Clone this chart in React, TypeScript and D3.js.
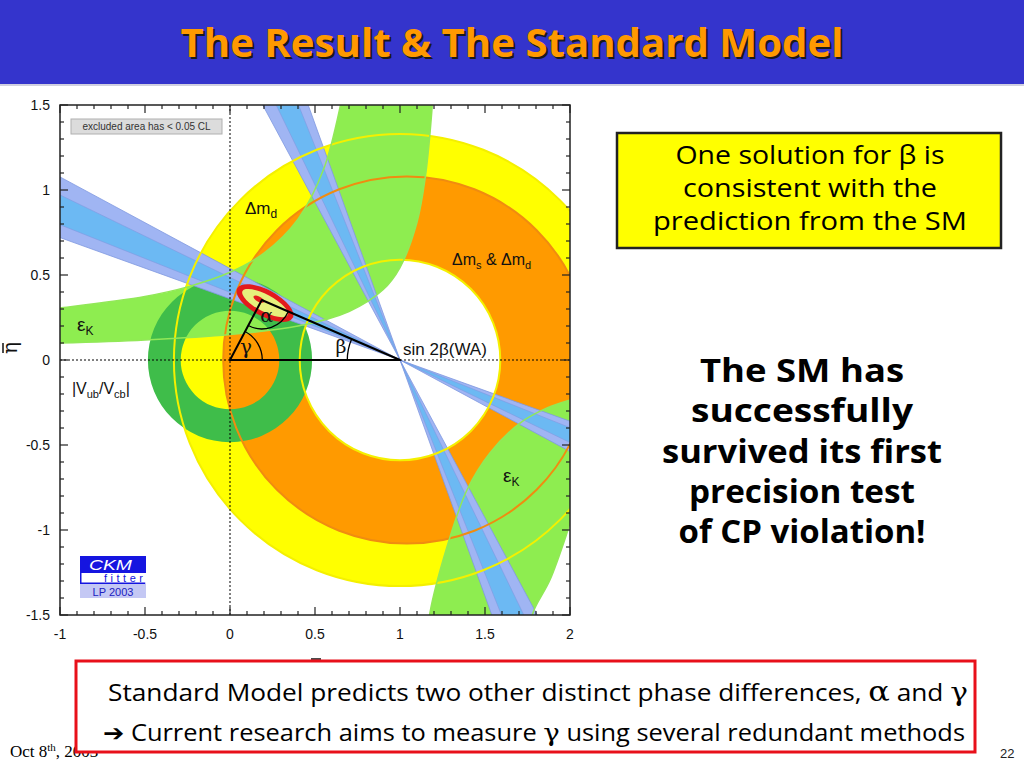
import React from 'react';
import * as d3 from 'd3';

// slide text
const TITLE = 'The Result & The Standard Model';
const boxLines = ['One solution for β is', 'consistent with the', 'prediction from the SM'];
const bigLines = ['The SM has', 'successfully', 'survived its first', 'precision test', 'of CP violation!'];

// axis ticks
const xTickLabels = [-1, -0.5, 0, 0.5, 1, 1.5, 2];
const yTickLabels = [-1.5, -1, -0.5, 0, 0.5, 1, 1.5];

// constraints: [rho centre, eta centre, radius]
const dmdOuter = [1, 0, 1.33];
const dmdInner = [1, 0, 0.59];
const dmsOuter = [1.04, 0, 1.08];
const vubOuter = [0, 0, 0.483];
const vubInner = [0, 0, 0.29];

// sin2beta (world average) -> beta range in degrees
const beta2s = [19.8, 28.3];
const beta1s = [21.7, 25.9];

// epsilon_K band edges [rho, eta]
const epsUpOuter: [number, number][] = [
  [-1.05, 0.3], [-1, 0.306], [-0.5, 0.374], [-0.25, 0.43], [0, 0.516], [0.2, 0.629],
  [0.4, 0.829], [0.55, 1.12], [0.65, 1.5], [0.68, 1.67],
];
const epsUpInner: [number, number][] = [
  [-1.05, 0.099], [-1, 0.1], [-0.5, 0.118], [0, 0.15], [0.4, 0.2], [0.7, 0.285],
  [0.9, 0.413], [1.0, 0.544], [1.1, 0.81], [1.15, 1.084], [1.19, 1.5], [1.21, 1.86],
];
const epsLoInner: [number, number][] = [
  [1.165, -1.6], [1.176, -1.488], [1.276, -1.1], [1.394, -0.765], [1.529, -0.547],
  [1.706, -0.371], [1.865, -0.282], [2.0, -0.235], [2.06, -0.22],
];
const epsLoOuter: [number, number][] = [
  [1.77, -1.6], [1.782, -1.488], [1.882, -1.294], [1.982, -1.018], [2.0, -0.959], [2.06, -0.8],
];

// unitarity triangle apex and CL contours [rho, eta, a, b]
const apex = [0.187, 0.353];
const clOuter = [0.206, 0.335, 0.185, 0.078];
const clInner = [0.206, 0.335, 0.15, 0.05];
const clCore = [0.17, 0.358, 0.035, 0.015];

const W = 1024;
const H = 768;

const x = d3.scaleLinear().domain([-1, 2]).range([60, 570]);
const y = d3.scaleLinear().domain([-1.5, 1.5]).range([615, 105]);
const k = x(1) - x(0);

const circ = (c: number[]) => {
  const cx = x(c[0]), cy = y(c[1]), r = c[2] * k;
  return `M${cx + r},${cy}A${r},${r} 0 1,0 ${cx - r},${cy}A${r},${r} 0 1,0 ${cx + r},${cy}Z`;
};

const rad = (d: number) => (d * Math.PI) / 180;

const wedge = (a1: number, a2: number) => {
  const L = 6;
  const p = (a: number, s: number) => `${x(1 - s * Math.cos(rad(a)) * L)},${y(s * Math.sin(rad(a)) * L)}`;
  const o = `${x(1)},${y(0)}`;
  return `M${o}L${p(a1, 1)}L${p(a2, 1)}ZM${o}L${p(a1, -1)}L${p(a2, -1)}Z`;
};

const edge = d3.line<[number, number]>().x(d => x(d[0])).y(d => y(d[1])).curve(d3.curveCatmullRom);
const band = (a: [number, number][], b: [number, number][]) =>
  (edge(a) as string) + (edge([...b].reverse()) as string).replace(/^M/, 'L') + 'Z';

const arcPath = (c: number[], r: number, t1: number, t2: number) => {
  const cx = x(c[0]), cy = y(c[1]), R = r * k;
  const p1 = [cx + R * Math.cos(t1), cy - R * Math.sin(t1)];
  const p2 = [cx + R * Math.cos(t2), cy - R * Math.sin(t2)];
  return `M${p1[0]},${p1[1]}A${R},${R} 0 0,0 ${p2[0]},${p2[1]}`;
};

const SANS = '"Liberation Sans", Arial, Helvetica, sans-serif';
const COMIC = '"Comic Sans MS", "Open Sans", "DejaVu Sans", sans-serif';

const YELLOW = '#ffff00';
const ORANGE = '#ff9a00';
const LGREEN = '#8eed50';
const DGREEN = '#3fbd4a';
const LAV = '#a0b5f3';
const SKY = '#6cb9f3';

export default function App() {
  const tGamma = Math.atan2(apex[1], apex[0]);
  const tBeta = Math.atan2(apex[1], apex[0] - 1);
  const tA1 = Math.atan2(-apex[1], -apex[0]);
  const tA2 = Math.atan2(-apex[1], 1 - apex[0]);
  const tilt = 28;

  const xMinor = d3.range(-10, 21).map(i => ({ v: i / 10, major: i % 5 === 0 }));
  const yMinor = d3.range(-15, 16).map(i => ({ v: i / 10, major: i % 5 === 0 }));

  const ell = (e: number[], fill: string) => (
    <ellipse cx={x(e[0])} cy={y(e[1])} rx={e[2] * k} ry={e[3] * k} fill={fill}
      transform={`rotate(${tilt},${x(e[0])},${y(e[1])})`} />
  );

  return (
    <svg width={W} height={H} style={{ position: 'absolute', left: 0, top: 0, display: 'block', background: '#fff' }}>
      <defs>
        <clipPath id="plot"><rect x={60} y={105} width={510} height={510} /></clipPath>
      </defs>

      {/* title bar */}
      <rect x={0} y={0} width={W} height={84} fill="#3434cc" />
      <rect x={0} y={84} width={W} height={2} fill="#d0d0e0" />
      <text x={514} y={59} textAnchor="middle" fontFamily={COMIC} fontWeight="bold" fontSize={40}
        fill="#1a1a1a" textLength={663} lengthAdjust="spacingAndGlyphs">{TITLE}</text>
      <text x={512} y={57} textAnchor="middle" fontFamily={COMIC} fontWeight="bold" fontSize={40}
        fill="#ff9900" textLength={663} lengthAdjust="spacingAndGlyphs">{TITLE}</text>

      {/* plot */}
      <g clipPath="url(#plot)">
        <path d={circ(dmdOuter) + circ(dmdInner)} fill={YELLOW} fillRule="evenodd" />
        <path d={circ(dmsOuter) + circ(dmdInner)} fill={ORANGE} fillRule="evenodd" />
        <path d={band(epsUpOuter, epsUpInner)} fill={LGREEN} />
        <path d={band(epsLoInner, epsLoOuter)} fill={LGREEN} />
        <path d={circ(vubOuter) + circ(vubInner)} fill={DGREEN} fillRule="evenodd" />

        <path d={wedge(beta2s[0], beta2s[1])} fill={LAV} stroke="#7f98e0" strokeWidth={0.8} />
        <path d={wedge(90 - beta2s[1], 90 - beta2s[0])} fill={LAV} stroke="#7f98e0" strokeWidth={0.8} />
        <path d={wedge(beta1s[0], beta1s[1])} fill={SKY} stroke="#7f98e0" strokeWidth={0.6} />
        <path d={wedge(90 - beta1s[1], 90 - beta1s[0])} fill={SKY} stroke="#7f98e0" strokeWidth={0.6} />

        {/* contour lines on top */}
        <path d={circ(dmdOuter)} fill="none" stroke="#f4f000" strokeWidth={2} />
        <path d={circ(dmdInner)} fill="none" stroke="#f4f000" strokeWidth={2} />
        <path d={circ(dmsOuter)} fill="none" stroke="#f08c10" strokeWidth={2} />
        {[epsUpOuter, epsUpInner, epsLoInner, epsLoOuter].map((e, i) => (
          <path key={i} d={edge(e) as string} fill="none" stroke="#92e858" strokeWidth={1.5} />
        ))}

        {/* zero lines */}
        <line x1={x(0)} x2={x(0)} y1={105} y2={615} stroke="#000" strokeWidth={1} strokeDasharray="2,2" />
        <line x1={60} x2={570} y1={y(0)} y2={y(0)} stroke="#000" strokeWidth={1} strokeDasharray="2,2" />

        {/* CL contours */}
        {ell(clOuter, '#e31a1c')}
        {ell(clInner, '#e6f07c')}
        {ell(clCore, '#e31a1c')}

        {/* triangle */}
        <path d={`M${x(0)},${y(0)}L${x(1)},${y(0)}L${x(apex[0])},${y(apex[1])}Z`} fill="none" stroke="#000" strokeWidth={2} strokeLinejoin="round" />
        <path d={arcPath([0, 0], 0.19, 0, tGamma)} fill="none" stroke="#000" strokeWidth={1.3} />
        <path d={arcPath([1, 0], 0.31, tBeta, Math.PI)} fill="none" stroke="#000" strokeWidth={1.3} />
        <path d={arcPath(apex, 0.17, tA1, tA2)} fill="none" stroke="#000" strokeWidth={1.3} />
      </g>

      {/* plot labels */}
      <g fontFamily={SANS} fill="#111">
        <text x={x(0.094)} y={y(0.076) + 7} fontSize={20} textAnchor="middle" fontFamily="DejaVu Serif, serif">γ</text>
        <text x={x(0.215)} y={y(0.259) + 6} fontSize={19} textAnchor="middle" fontFamily="DejaVu Serif, serif">α</text>
        <text x={x(0.653)} y={y(0.082) + 7} fontSize={19} textAnchor="middle" fontFamily="DejaVu Serif, serif">β</text>
        <text x={x(1.018)} y={y(0.03)} fontSize={17}>sin 2β(WA)</text>
        <text x={x(0.088)} y={y(0.86)} fontSize={17}>Δm<tspan fontSize={12} dy={4}>d</tspan></text>
        <text x={x(1.306)} y={y(0.56)} fontSize={16}>Δm<tspan fontSize={11} dy={4}>s</tspan><tspan dy={-4}> &amp; Δm</tspan><tspan fontSize={11} dy={4}>d</tspan></text>
        <text x={x(-0.9)} y={y(0.17)} fontSize={19}>ε<tspan fontSize={12} dy={4}>K</tspan></text>
        <text x={x(1.606)} y={y(-0.72)} fontSize={19}>ε<tspan fontSize={12} dy={4}>K</tspan></text>
        <text x={x(-0.93)} y={y(-0.2)} fontSize={16}>|V<tspan fontSize={11} dy={4}>ub</tspan><tspan dy={-4}>/V</tspan><tspan fontSize={11} dy={4}>cb</tspan><tspan dy={-4}>|</tspan></text>
      </g>

      {/* frame and ticks */}
      <rect x={60} y={105} width={510} height={510} fill="none" stroke="#222" strokeWidth={1.5} />
      {xMinor.map((t, i) => {
        const len = t.major ? 8 : 4;
        return (
          <g key={'x' + i} stroke="#222" strokeWidth={1.2}>
            <line x1={x(t.v)} x2={x(t.v)} y1={615} y2={615 - len} />
            <line x1={x(t.v)} x2={x(t.v)} y1={105} y2={105 + len} />
          </g>
        );
      })}
      {yMinor.map((t, i) => {
        const len = t.major ? 8 : 4;
        return (
          <g key={'y' + i} stroke="#222" strokeWidth={1.2}>
            <line x1={60} x2={60 + len} y1={y(t.v)} y2={y(t.v)} />
            <line x1={570} x2={570 - len} y1={y(t.v)} y2={y(t.v)} />
          </g>
        );
      })}
      <g fontFamily={SANS} fontSize={14} fill="#111">
        {xTickLabels.map(v => (
          <text key={v} x={x(v)} y={639} textAnchor="middle">{v}</text>
        ))}
        {yTickLabels.map(v => (
          <text key={v} x={50} y={y(v) + 5} textAnchor="end">{v}</text>
        ))}
      </g>
      {/* axis titles */}
      <g transform="translate(17,348) rotate(-90)">
        <text x={0} y={0} textAnchor="middle" fontFamily="DejaVu Serif, serif" fontSize={20} fill="#111">η</text>
        <line x1={-5} x2={5} y1={-14} y2={-14} stroke="#111" strokeWidth={1.5} />
      </g>
      <text x={316} y={675} textAnchor="middle" fontFamily="DejaVu Serif, serif" fontSize={19} fill="#111">ρ</text>
      <line x1={311} x2={321} y1={659} y2={659} stroke="#111" strokeWidth={1.5} />

      {/* legend tag */}
      <rect x={71} y={119} width={151} height={15} fill="#dcdcdc" stroke="#b0b0b0" strokeWidth={1} />
      <text x={146.5} y={130} textAnchor="middle" fontFamily={SANS} fontSize={10} fill="#333">excluded area has &lt; 0.05 CL</text>

      {/* CKMfitter logo */}
      <rect x={80} y={556} width={66} height={17} fill="#1515e0" />
      <text x={89} y={570} fontFamily={SANS} fontStyle="italic" fontSize={15} fill="#fff" textLength={43} lengthAdjust="spacingAndGlyphs">CKM</text>
      <path d="M80.75,573V583.25H145.25" fill="none" stroke="#1515e0" strokeWidth={1.5} />
      <text x={104} y={582} fontFamily={SANS} fontSize={11} fill="#1515e0" textLength={39} lengthAdjust="spacing">fitter</text>
      <rect x={80} y={584} width={66} height={14} fill="#c4c8f4" />
      <text x={113} y={595.5} textAnchor="middle" fontFamily={SANS} fontSize={11} fill="#2020c0">LP 2003</text>

      {/* yellow note */}
      <rect x={617} y={133} width={384} height={115} fill="#ffff00" stroke="#222" strokeWidth={2.5} />
      {boxLines.map((s, i) => (
        <text key={s} x={810} y={164 + i * 33} textAnchor="middle" fontFamily={COMIC} fontSize={25} fill="#000"
          textLength={[269, 254, 314][i]} lengthAdjust="spacingAndGlyphs">{s}</text>
      ))}

      {/* big statement */}
      {bigLines.map((s, i) => (
        <text key={s} x={802} y={382 + i * 40.3} textAnchor="middle" fontFamily={COMIC} fontWeight="bold" fontSize={32} fill="#000"
          textLength={[204, 222, 280, 226, 247][i]} lengthAdjust="spacingAndGlyphs">{s}</text>
      ))}

      {/* footer */}
      <text x={10} y={757} fontFamily="'Liberation Serif', 'Times New Roman', serif" fontSize={17} fill="#000">
        Oct 8<tspan fontSize={11} dy={-6}>th</tspan><tspan dy={6}>, 2003</tspan>
      </text>
      <text x={1000} y={758} fontFamily={SANS} fontSize={13} fill="#222">22</text>

      {/* bottom box */}
      <rect x={76} y={661} width={899} height={91} fill="#fff" stroke="#e8101a" strokeWidth={3} />
      <text x={108} y={701} fontFamily={COMIC} fontSize={23} fill="#000" textLength={860} lengthAdjust="spacingAndGlyphs">
        Standard Model predicts two other distinct phase differences, <tspan fontFamily="DejaVu Serif, serif" fontSize={28}>α</tspan> and <tspan fontFamily="DejaVu Serif, serif" fontSize={26}>γ</tspan>
      </text>
      <text x={103} y={741} fontFamily={COMIC} fontSize={23} fill="#000" textLength={862} lengthAdjust="spacingAndGlyphs">
        <tspan fontFamily="DejaVu Sans, sans-serif" fontWeight="bold">➔</tspan> Current research aims to measure <tspan fontFamily="DejaVu Serif, serif" fontSize={25}>γ</tspan> using several redundant methods
      </text>
    </svg>
  );
}
